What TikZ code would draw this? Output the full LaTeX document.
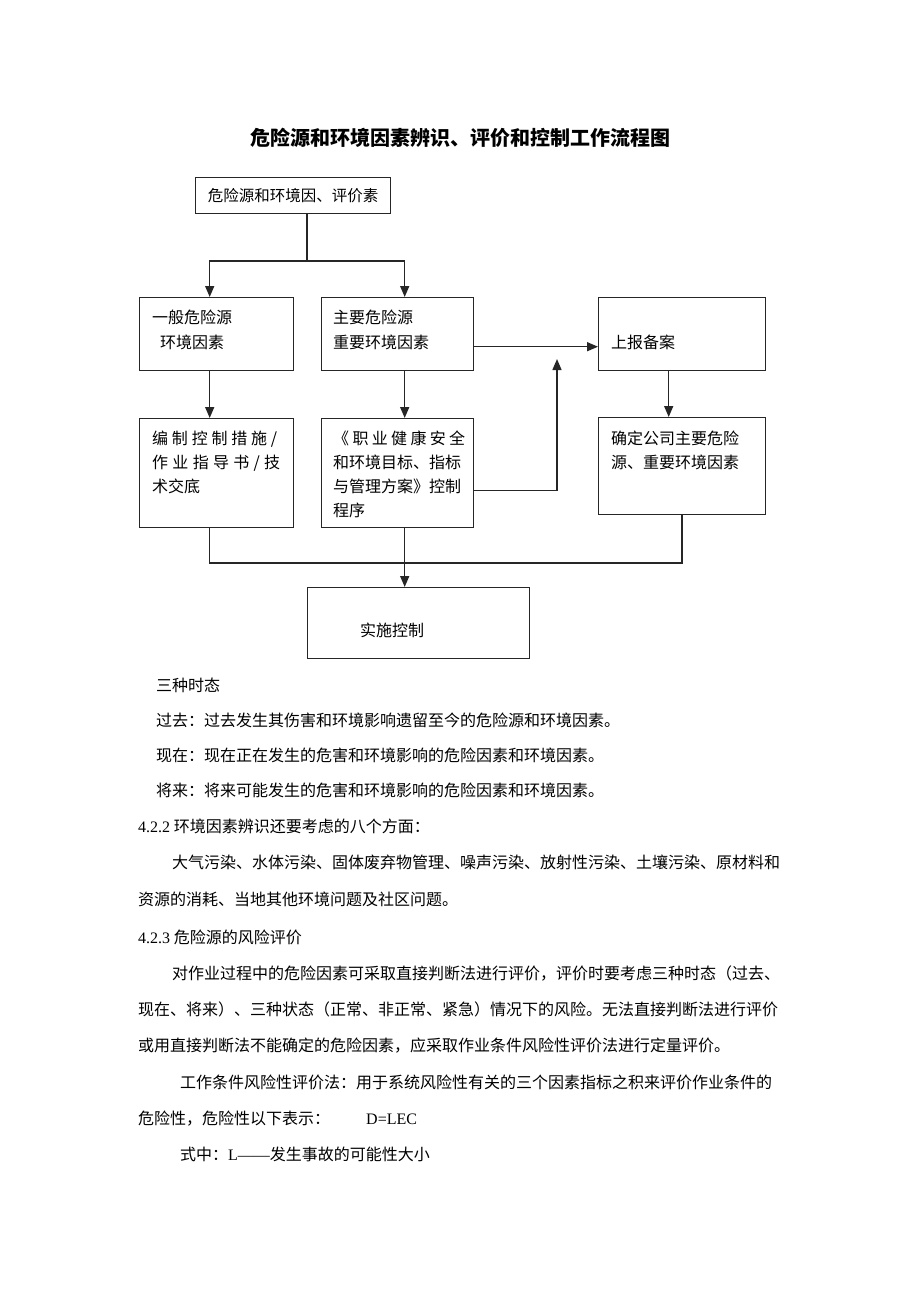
\documentclass[tikz,border=0pt]{standalone}
\usepackage{fontspec}
\setmainfont{Liberation Serif}
\newfontfamily\cjk{Noto Sans CJK SC}
\usepackage{tikz}
\usetikzlibrary{arrows.meta, positioning, calc}

\tikzset{
  box/.style={draw=black!85, line width=1.4pt, inner sep=0pt, anchor=north west},
  line/.style={draw=black!85, line width=1.5pt},
  arr/.style={line, -{Triangle[length=11pt,width=9pt]}},
  txt/.style={font=\cjk\fontsize{16}{20}\selectfont, anchor=base west, inner sep=0pt},
}

\begin{document}
\begin{tikzpicture}[x=1pt, y=-1pt]
\path[use as bounding box] (0,0) rectangle (920,1302);

% Title
\node[font=\cjk\bfseries\fontsize{20}{24}\selectfont, anchor=base, inner sep=0pt] (title) at (460,145) {危险源和环境因素辨识、评价和控制工作流程图};

% Boxes
\node[box, minimum width=195pt, minimum height=36pt, font=\cjk\fontsize{15.5}{18}\selectfont] (src) at (195,177) {危险源和环境因、评价素};
\node[box, minimum width=154pt, minimum height=73pt] (ybwx) at (139,297) {};
\node[box, minimum width=152pt, minimum height=73pt] (zywx) at (321,297) {};
\node[box, minimum width=167pt, minimum height=73pt] (sbba) at (598,297) {};
\node[box, minimum width=154pt, minimum height=109pt] (bzkz) at (139,418) {};
\node[box, minimum width=152pt, minimum height=109pt] (glfa) at (321,418) {};
\node[box, minimum width=167pt, minimum height=97pt] (qdzy) at (598,417) {};
\node[box, minimum width=222pt, minimum height=71pt] (sskz) at (307,587) {};

% Box texts
\node[txt] (ybwx-a) at (152,323) {一般危险源};
\node[txt] (ybwx-b) at (160,348) {环境因素};
\node[txt] (zywx-a) at (333,323) {主要危险源};
\node[txt] (zywx-b) at (333,348) {重要环境因素};
\node[txt] (sbba-a) at (611,348) {上报备案};
\node[txt] (bzkz-a) at (152,444) {\makebox[125pt][s]{编\hfill 制\hfill 控\hfill 制\hfill 措\hfill 施\hfill /}};
\node[txt] (bzkz-b) at (152,468) {\makebox[128pt][s]{作\hfill 业\hfill 指\hfill 导\hfill 书\hfill /\hfill 技}};
\node[txt] (bzkz-c) at (152,492) {术交底};
\node[txt] (glfa-a) at (333,444) {\makebox[132pt][s]{《\hfill 职\hfill 业\hfill 健\hfill 康\hfill 安\hfill 全}};
\node[txt] (glfa-b) at (333,468) {和环境目标、指标};
\node[txt] (glfa-c) at (333,492) {与管理方案》控制};
\node[txt] (glfa-d) at (333,516) {程序};
\node[txt] (qdzy-a) at (611,444) {确定公司主要危险};
\node[txt] (qdzy-b) at (611,468) {源、重要环境因素};
\node[txt] (sskz-a) at (360,636) {实施控制};

% Connectors
\coordinate (fork) at (307,261);
\coordinate (up) at (557,359);
\coordinate (join) at (307,563);
\draw[line] (src.south -| fork) -- (fork);
\draw[arr] (fork) -| ([xshift=-7pt]ybwx.north);
\draw[arr] (fork) -| ([xshift=7pt]zywx.north);
\draw[arr] ([xshift=-7pt]ybwx.south) -- ([xshift=-7pt]bzkz.north);
\draw[arr] ([xshift=7pt]zywx.south) -- ([xshift=7pt]glfa.north);
\draw[arr] ([yshift=-12.5pt]zywx.east) -- ([yshift=-12.5pt]sbba.west);
\draw[arr] ([yshift=-17.5pt]glfa.east) -| (up);
\draw[arr] ([xshift=-13.5pt]sbba.south) -- ([xshift=-13.5pt]qdzy.north);
\draw[line] ([xshift=-7pt]bzkz.south) |- (join);
\draw[line] (qdzy.south) |- (join);
\draw[arr] ([xshift=7pt]glfa.south) -- ([xshift=7pt]glfa.south |- sskz.north);

% Text below the chart
\node[txt] (p1) at (156,691) {三种时态};
\node[txt] (p2) at (156,726) {过去：过去发生其伤害和环境影响遗留至今的危险源和环境因素。};
\node[txt] (p3) at (156,761) {现在：现在正在发生的危害和环境影响的危险因素和环境因素。};
\node[txt] (p4) at (156,796) {将来：将来可能发生的危害和环境影响的危险因素和环境因素。};
\node[txt] (p5) at (138,832) {{\rmfamily 4.2.2} 环境因素辨识还要考虑的八个方面：};
\node[txt] (p6) at (172,868) {大气污染、水体污染、固体废弃物管理、噪声污染、放射性污染、土壤污染、原材料和};
\node[txt] (p7) at (138,905) {资源的消耗、当地其他环境问题及社区问题。};
\node[txt] (p8) at (138,943) {{\rmfamily 4.2.3} 危险源的风险评价};
\node[txt] (p9) at (172,979) {对作业过程中的危险因素可采取直接判断法进行评价，评价时要考虑三种时态（过去、};
\node[txt] (p10) at (138,1015) {现在、将来）、三种状态（正常、非正常、紧急）情况下的风险。无法直接判断法进行评价};
\node[txt] (p11) at (138,1051) {或用直接判断法不能确定的危险因素，应采取作业条件风险性评价法进行定量评价。};
\node[txt] (p12) at (180,1088) {工作条件风险性评价法：用于系统风险性有关的三个因素指标之积来评价作业条件的};
\node[txt] (p13) at (138,1124) {危险性，危险性以下表示：\hspace{36pt}{\rmfamily D=LEC}};
\node[txt] (p14) at (180,1160) {式中：{\rmfamily L——}发生事故的可能性大小};
\end{tikzpicture}
\end{document}
